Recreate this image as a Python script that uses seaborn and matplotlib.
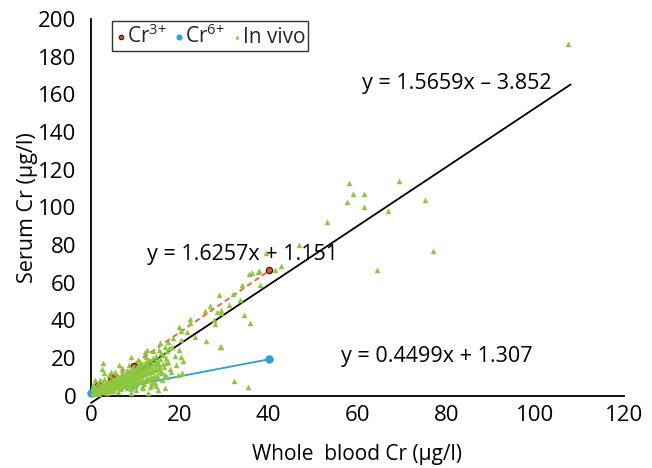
import numpy as np
import pandas as pd
import matplotlib
matplotlib.use("Agg")
import matplotlib.pyplot as plt
import seaborn as sns

# ---------------- data ----------------
cr3_x = [0.4, 1.6, 4.6, 9.6, 40.0]
cr3_y = [1.6, 5.5, 10.0, 16.0, 66.6]

cr6_x = [0.0, 1.6, 4.6, 9.6, 40.0]
cr6_y = [1.4, 2.0, 3.4, 5.6, 19.3]

vivo_x = [
    107.5, 58.0, 59.0, 61.5, 57.7, 61.5, 69.4, 75.1, 66.9, 53.2, 77.1, 64.4, 46.8, 39.5, 42.7, 41.5,
    35.5, 36.3, 37.6, 37.9, 33.9, 38.1, 28.9, 32.0, 31.1, 33.6, 26.8, 25.6, 28.3, 29.3, 29.3, 34.5,
    27.6, 28.0, 35.9, 22.4, 22.2, 19.7, 21.7, 20.2, 23.5, 18.5, 20.2, 25.8, 29.0, 15.5, 17.3, 16.6,
    29.2, 20.3, 20.7, 16.9, 16.2, 15.1, 15.2, 16.6, 19.6, 20.5, 32.3, 35.4, 16.6, 14.3,
    2.7, 2.9, 0.8, 4.4, 6.4, 9.1, 12.1, 12.5, 12.8, 15.8, 10.6, 9.1, 12.8, 15.1,
    0.3, 0.5, 0.6, 0.8, 1.0, 1.1, 1.3, 1.4, 1.6, 1.8, 1.9, 2.1, 2.2, 2.4, 2.5, 2.7, 2.8, 3.0,
    3.1, 3.3, 3.4, 3.6, 3.7, 3.9, 4.0, 4.2, 4.3, 4.5, 4.6, 4.8, 4.9, 5.1, 5.2, 5.4, 5.5, 5.7,
    5.8, 6.0, 6.1, 6.3, 6.4, 6.6, 6.7, 6.9, 7.0, 7.2, 7.3, 7.5, 7.6, 7.8, 7.9, 8.1, 8.2, 8.4,
    8.5, 8.7, 8.8, 9.0, 9.1, 9.3, 9.4, 9.6, 9.7, 9.9, 10.0, 10.2, 10.3, 10.5, 10.6, 10.8, 10.9,
    11.1, 11.2, 11.4, 11.5, 11.7, 11.8, 12.0, 12.1, 12.3, 12.4, 12.6, 12.7, 12.9, 13.0, 13.2,
    13.3, 13.5, 13.6, 13.8, 14.0, 14.1, 14.3, 14.5, 14.7, 14.8, 15.0, 15.3, 15.6, 15.9, 16.2,
    16.5, 17.0, 17.4, 17.8, 18.3, 18.8, 19.2, 19.7, 0.2, 0.4, 1.0, 1.5, 2.0, 0.7, 1.2, 3.5,
    5.0, 6.5, 8.0, 10.0, 12.0, 13.8, 2.5,
    0.5, 0.9, 1.2, 1.7, 2.0, 2.3, 2.6, 2.9, 3.2, 3.5, 3.8, 4.1, 4.4, 4.7, 5.0, 5.3, 5.6, 5.9,
    6.2, 6.5, 6.8, 7.1, 7.4, 7.7, 8.0, 8.3, 8.6, 8.9, 9.2, 9.5, 9.8, 10.1, 10.4, 10.7, 11.0,
    11.3, 11.6, 11.9, 12.2, 12.5, 12.8, 13.1, 13.4, 13.7, 14.0, 14.3, 14.6, 14.9, 15.2, 15.5,
    3.0, 4.0, 5.5, 7.0, 8.5, 10.5, 6.0, 9.0, 11.5, 13.5,
    11.0, 12.4, 13.9, 15.4, 16.8, 17.6, 14.6, 13.2, 11.8, 10.2, 16.0, 17.2, 18.1, 9.5, 8.2,
]
vivo_y = [
    186.5, 113.0, 107.0, 107.0, 103.0, 100.0, 114.0, 104.0, 98.0, 92.0, 77.0, 67.0, 80.0, 76.0, 68.8, 67.0,
    64.7, 65.3, 65.8, 66.0, 59.0, 59.0, 53.6, 54.0, 48.0, 50.8, 47.7, 45.0, 44.5, 45.3, 44.0, 42.7,
    40.4, 38.2, 38.8, 40.5, 38.8, 36.5, 33.7, 34.2, 31.2, 30.5, 29.4, 29.1, 25.9, 28.2, 28.7, 25.6,
    26.0, 20.3, 18.5, 17.1, 16.7, 17.1, 14.1, 10.9, 10.9, 11.8, 7.9, 4.4, 4.1, 7.0,
    17.4, 12.0, 8.3, 12.8, 16.4, 20.8, 23.0, 24.3, 19.0, 22.5, 16.0, 1.3, 1.3, 3.0,
    0.8, 1.5, 2.2, 1.2, 2.8, 1.9, 3.5, 1.6, 2.6, 4.1, 2.0, 3.2, 5.0, 2.4, 3.9, 6.0, 2.9, 4.6,
    3.3, 6.5, 2.8, 5.2, 7.4, 3.6, 5.9, 4.3, 8.0, 3.5, 6.4, 5.0, 8.9, 4.1, 7.0, 5.6, 9.4, 4.4,
    7.6, 6.1, 10.2, 4.8, 8.2, 6.6, 10.9, 5.3, 8.8, 7.2, 11.5, 5.6, 9.5, 7.6, 12.3, 6.0, 10.1, 8.2,
    13.0, 6.5, 10.7, 8.7, 13.7, 7.0, 11.4, 9.2, 14.4, 7.3, 12.0, 9.8, 15.2, 7.8, 12.6, 10.3, 16.0,
    8.2, 13.3, 10.9, 16.7, 8.6, 13.9, 11.4, 17.6, 9.1, 14.6, 12.0, 18.3, 9.6, 15.3, 12.5,
    19.0, 10.0, 15.9, 13.1, 20.1, 10.5, 16.6, 13.6, 21.2, 11.0, 17.3, 14.2, 19.5, 12.0, 21.8,
    15.0, 23.5, 18.0, 14.3, 26.0, 21.0, 16.5, 24.0, 3.5, 5.5, 4.8, 7.0, 8.5, 0.3, 0.6, 1.5,
    2.6, 3.3, 4.2, 5.2, 6.3, 7.5, 14.0,
    0.5, 2.0, 3.0, 1.0, 2.8, 4.4, 1.8, 5.5, 2.1, 4.0, 6.2, 2.5, 5.5, 7.5, 3.6, 6.3, 8.4, 4.7,
    7.0, 9.3, 4.0, 6.5, 10.0, 5.1, 7.8, 11.2, 5.4, 9.0, 12.2, 6.1, 10.6, 13.4, 6.6, 11.1, 14.5,
    7.4, 12.2, 15.3, 7.9, 12.9, 16.2, 8.6, 13.8, 17.4, 9.3, 14.6, 18.5, 9.9, 15.6, 12.6,
    9.0, 11.0, 12.5, 14.5, 16.5, 19.0, 2.0, 3.5, 4.5, 5.5,
    18.0, 20.5, 23.8, 24.0, 20.0, 25.5, 5.2, 4.6, 3.9, 3.0, 8.5, 10.0, 12.5, 15.0, 13.2,
]

# trendlines (slope, intercept, x range)
fit_labels = ["y = 1.5659x \u2013 3.852", "y = 1.6257x + 1.151", "y = 0.4499x + 1.307"]
fit_slopes = [1.5659, 1.6257, 0.4499]
fit_inter = [-3.852, 1.151, 1.307]
fit_xrange = [(0, 108), (0, 40), (0, 40)]

x_ticks = [0, 20, 40, 60, 80, 100, 120]
y_ticks = [0, 20, 40, 60, 80, 100, 120, 140, 160, 180, 200]

legend_labels = ["Cr$^{3\\!+}$", "Cr$^{6\\!+}$", "In vivo"]

# ---------------- style ----------------
sns.set_theme(style="white")
FONT = "Open Sans"
plt.rcParams["font.family"] = [FONT, "DejaVu Sans"]
plt.rcParams["mathtext.fontset"] = "custom"
plt.rcParams["mathtext.rm"] = FONT
plt.rcParams["mathtext.it"] = FONT
plt.rcParams["mathtext.bf"] = FONT
plt.rcParams["mathtext.default"] = "regular"

C_GREEN = "#8cc63e"
C_RED = "#f05a28"
C_BLUE = "#2a9fd8"
C_BLACK = "#000000"

fig = plt.figure(figsize=(6.52, 4.68), dpi=100)
ax = fig.add_axes([91 / 652, 1 - 395.7 / 468, (624 - 91) / 652, (395.7 - 19) / 468])

# trendlines
fit_colors = [C_BLACK, C_RED, C_BLUE]
for s, b, (x0, x1), c in zip(fit_slopes, fit_inter, fit_xrange, fit_colors):
    lx = np.array([x0, x1], dtype=float)
    ly = s * lx + b
    sns.lineplot(x=lx, y=ly, ax=ax, color=c, linewidth=1.3, clip_on=False,
                 zorder=4 if c == C_BLACK else 3)
for line in ax.get_lines():
    if matplotlib.colors.to_hex(line.get_color()) == C_RED:
        line.set_dashes((3, 2))

# points
df3 = pd.DataFrame({"x": cr3_x, "y": cr3_y})
df6 = pd.DataFrame({"x": cr6_x, "y": cr6_y})
dfv = pd.DataFrame({"x": vivo_x, "y": vivo_y})

sns.scatterplot(data=df3, x="x", y="y", ax=ax, color="#e8552a", edgecolor="#2b1a12",
                linewidth=0.9, s=20, marker="o", zorder=5, label=legend_labels[0], clip_on=False)
sns.scatterplot(data=df6, x="x", y="y", ax=ax, color=C_BLUE, edgecolor=C_BLUE,
                linewidth=0.5, s=30, marker="o", zorder=5, label=legend_labels[1], clip_on=False)
sns.scatterplot(data=dfv, x="x", y="y", ax=ax, color=C_GREEN, edgecolor=C_GREEN,
                linewidth=0.3, s=13, marker="^", zorder=6, label=legend_labels[2])

ax.set_xlim(0, 120)
ax.set_ylim(0, 200)
ax.set_xticks(x_ticks)
ax.set_yticks(y_ticks)
ax.set_xticklabels([str(t) for t in x_ticks])
ax.set_yticklabels([str(t) for t in y_ticks])
for sp in ["top", "right"]:
    ax.spines[sp].set_visible(False)
for sp in ["left", "bottom"]:
    ax.spines[sp].set_color("black")
    ax.spines[sp].set_linewidth(1.3)
ax.tick_params(axis="both", direction="inout", length=9, width=1.3, color="black",
               labelsize=16, labelcolor="black", pad=2)
ax.tick_params(axis="y", pad=6)

ax.set_xlabel("Whole  blood Cr (\u00b5g/l)", fontsize=15, color="black", labelpad=13)
ax.set_ylabel("Serum Cr (\u00b5g/l)", fontsize=15.5, color="black", labelpad=0)

# equation labels
ax.text(82.4, 166.0, fit_labels[0], fontsize=15.5, ha="center", va="center", color="black", zorder=7)
ax.text(34.2, 75.0, fit_labels[1], fontsize=15.5, ha="center", va="center", color="black", zorder=2)
ax.text(77.9, 20.6, fit_labels[2], fontsize=15.5, ha="center", va="center", color="black", zorder=7)

leg = ax.legend(loc="upper left", bbox_to_anchor=((112 - 91) / 533, (395.7 - 21) / 376.7), ncol=3,
                frameon=True, fontsize=15, handletextpad=0.0, columnspacing=0.3,
                handlelength=0.55, borderpad=0.15, borderaxespad=0, markerscale=0.7)
leg.get_frame().set_edgecolor("black")
leg.get_frame().set_linewidth(1.0)
leg.get_frame().set_boxstyle("square", pad=0)
leg.get_frame().set_facecolor("white")

fig.savefig("out.png", dpi=100)
